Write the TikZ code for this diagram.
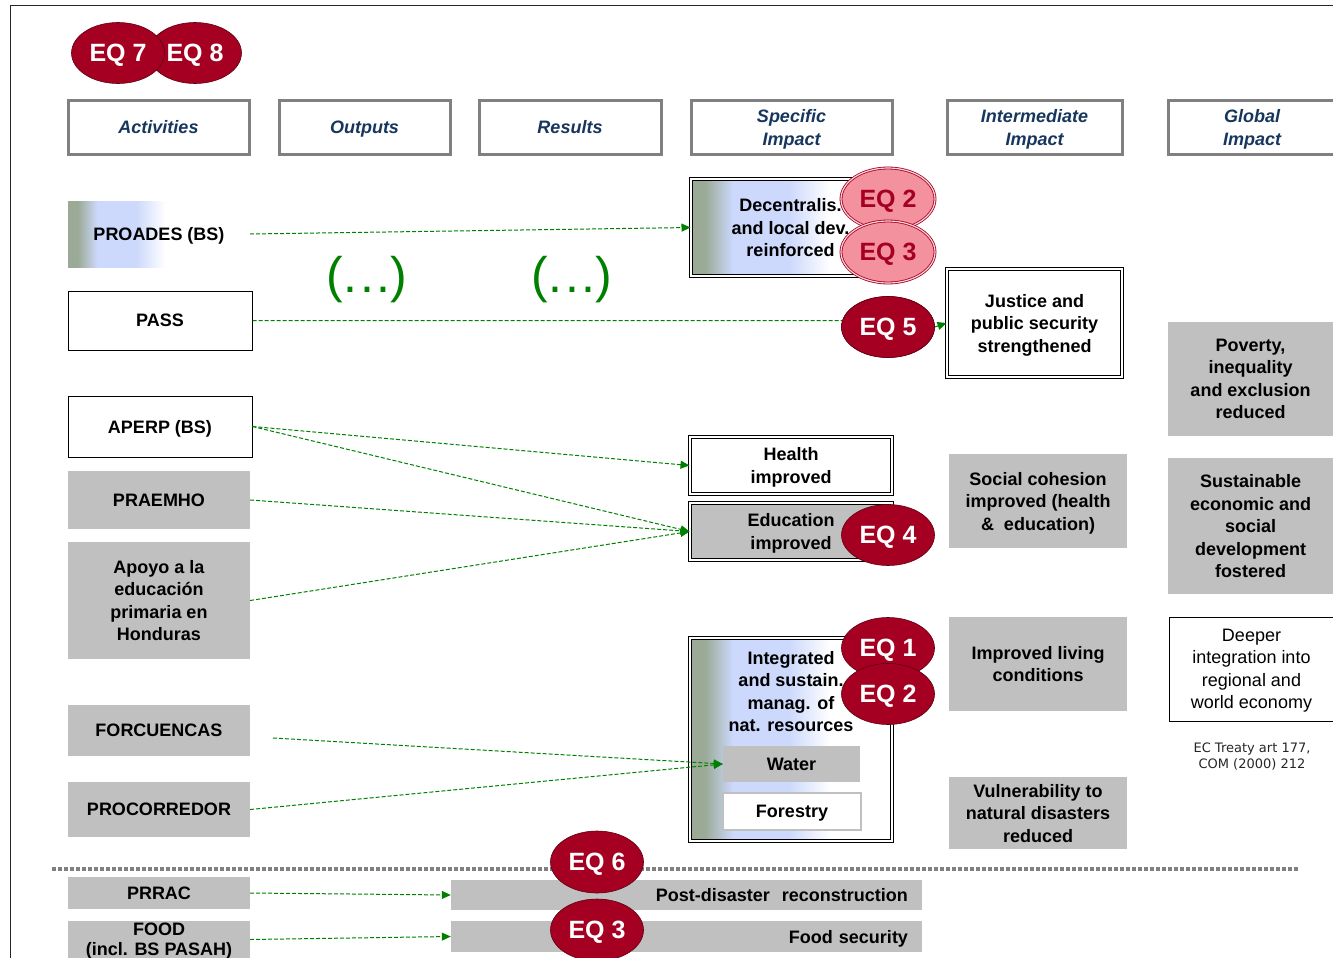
\documentclass[tikz,border=0pt]{standalone}
\usepackage{fontspec}
\setmainfont{Liberation Sans}
\newfontfamily\dejavu{DejaVu Sans}
\usetikzlibrary{shapes.geometric,arrows.meta}
\definecolor{eqred}{HTML}{A50021}
\definecolor{eqdark}{HTML}{5C0012}
\definecolor{eqpink}{HTML}{F4919F}
\definecolor{boxgray}{HTML}{C0C0C0}
\definecolor{hdrgray}{HTML}{808080}
\definecolor{hdrblue}{HTML}{17365D}
\definecolor{flowgreen}{HTML}{008000}
\definecolor{gg}{HTML}{9BAA96}
\definecolor{lb}{HTML}{CCD8FC}
\pgfdeclarehorizontalshading{fadeshade}{100bp}{color(0bp)=(gg); color(30bp)=(gg); color(40bp)=(lb); color(60bp)=(lb); color(75bp)=(white); color(100bp)=(white)}
\begin{document}
\begin{tikzpicture}[x=1pt,y=-1pt,
  lbl/.style={font=\fontsize{18}{22.5}\selectfont\bfseries, align=center, inner sep=0pt, text depth=-3pt},
  graybox/.style={lbl, fill=boxgray, draw=none},
  whitebox/.style={lbl, fill=white, draw=black, line width=1pt},
  dblbox/.style={lbl, draw=black, double=white, double distance=2pt, line width=1pt},
  hdr/.style={font=\fontsize{18}{23}\selectfont\bfseries\itshape, text=hdrblue, draw=hdrgray, line width=3pt, fill=white, align=center, inner sep=0pt, minimum height=54, text depth=-3pt},
  eq/.style={ellipse, fill=eqred, draw=eqdark, line width=0.6pt, text=white, font=\fontsize{25}{25}\selectfont\bfseries, minimum width=93, minimum height=61, inner sep=0pt, text depth=-3pt},
  eqp/.style={eq, fill=eqpink, text=eqred, draw=eqred, double=eqpink!40!white, double distance=1.2pt, line width=0.8pt, minimum width=94, minimum height=62},
  flow/.style={draw=flowgreen, dash pattern=on 4pt off 2pt, line width=1pt, -{Triangle[length=9pt,width=8pt,fill=flowgreen]}},
  flowplain/.style={draw=flowgreen, dash pattern=on 4pt off 2pt, line width=1pt},
  dots/.style={font=\fontsize{50}{50}\selectfont, text=flowgreen, inner sep=0pt}
]
\useasboundingbox (0,0) rectangle (1333,958);
% frame
\draw[line width=1pt, black!85] (10,958) -- (10,6) -- (1333,6);

% headers
\node[hdr, minimum width=181] (hact) at (158.5,127) {Activities};
\node[hdr, minimum width=171] (hout) at (364.5,127) {Outputs};
\node[hdr, minimum width=182] (hres) at (570,127) {Results};
\node[hdr, minimum width=201] (hspec) at (791.5,127) {Specific\\Impact};
\node[hdr, minimum width=175] (hint) at (1034.5,127) {Intermediate\\Impact};
\node[hdr, minimum width=168] (hglob) at (1252,127) {Global\\Impact};

% activities
\shade[shading=fadeshade] (68,201) rectangle (165,267);
\node[lbl, minimum width=182, minimum height=66] (proades) at (159,234) {PROADES (BS)};
\node[whitebox, minimum width=184, minimum height=59] (pass) at (160,320.5) {PASS};
\node[whitebox, minimum width=184, minimum height=61] (aperp) at (160,426.5) {APERP (BS)};
\node[graybox, minimum width=182, minimum height=58] (praemho) at (159,500) {PRAEMHO};
\node[graybox, minimum width=182, minimum height=117] (apoyo) at (159,600.5) {Apoyo a la\\educación\\primaria en\\Honduras};
\node[graybox, minimum width=182, minimum height=51] (forc) at (159,730.5) {FORCUENCAS};
\node[graybox, minimum width=182, minimum height=55] (procor) at (159,809.5) {PROCORREDOR};
\node[graybox, minimum width=182, minimum height=32] (prrac) at (159,893) {PRRAC};
\node[graybox, minimum width=182, minimum height=37, font=\fontsize{18}{20}\selectfont\bfseries] (food) at (159,939.5) {FOOD\\(incl. BS PASAH)};

% (...)
\node[dots] (dots1) at (367,280) {(.\kern3pt.\kern3pt.)};
\node[dots] (dots2) at (572,280) {(.\kern3pt.\kern3pt.)};

% separator
\draw[hdrgray, line width=3.5pt, dash pattern=on 4pt off 2pt] (52,869) -- (1298,869);

% bottom bars
\node[graybox, minimum width=471, minimum height=30, text width=443, align=right] (post) at (686.5,895) {Post-disaster\ \ reconstruction};
\node[graybox, minimum width=471, minimum height=31, text width=443, align=right] (foodsec) at (686.5,936.5) {Food security};

% specific impact
\shade[shading=fadeshade] (691,179) rectangle (830,276);
\node[dblbox, minimum width=199, minimum height=97] (decent) at (790.5,227.5) {Decentralis.\\and local dev.\\reinforced};
\node[dblbox, fill=white, minimum width=175, minimum height=108] (justice) at (1034.5,323) {Justice and\\public security\\strengthened};
\node[dblbox, fill=white, minimum width=202, minimum height=57] (health) at (791,465.5) {Health\\improved};
\node[dblbox, fill=boxgray, minimum width=202, minimum height=57] (educ) at (791,531.5) {Education\\improved};
\shade[shading=fadeshade] (691,639) rectangle (830,840);
\node[dblbox, minimum width=202, minimum height=203] (integ) at (791,739.5) {};
\node[lbl] (integtxt) at (791,691.5) {Integrated\\and sustain.\\manag. of\\nat. resources};
\node[graybox, minimum width=137, minimum height=36] (water) at (791.5,764) {Water};
\node[lbl, fill=white, draw=boxgray, line width=1.5pt, minimum width=138, minimum height=37] (forestry) at (792,811.5) {Forestry};

% intermediate
\node[graybox, minimum width=178, minimum height=94] (social) at (1038,501) {Social cohesion\\improved (health\\\&\ \ education)};
\node[graybox, minimum width=178, minimum height=94] (living) at (1038,664) {Improved living\\conditions};
\node[graybox, minimum width=178, minimum height=72] (vuln) at (1038,813) {Vulnerability to\\natural disasters\\reduced};

% global
\node[graybox, minimum width=165, minimum height=114] (poverty) at (1250.5,379) {Poverty,\\inequality\\and exclusion\\reduced};
\node[graybox, minimum width=165, minimum height=136] (sustain) at (1250.5,526) {Sustainable\\economic and\\social\\development\\fostered};
\node[draw=black, line width=1pt, fill=white, align=center, inner sep=0pt, font=\fontsize{18}{22.5}\selectfont, text depth=-3pt, minimum width=165, minimum height=104] (deeper) at (1251.5,669) {Deeper\\integration into\\regional and\\world economy};
\node[align=center, inner sep=0pt, font=\dejavu\fontsize{13}{16}\selectfont, text=black!85] (ec) at (1252,757) {EC Treaty art 177,\\COM (2000) 212};

% ellipse used as connector target
\node[eq] (eq5) at (888,327) {EQ 5};

% connectors
\coordinate (forcS) at (273,738);
\draw[flow] (proades.east) -- (decent.west);
\draw[flowplain] (pass.east) -- (eq5.172);
\draw[flow] (eq5.east) -- (justice.west);
\draw[flow] (aperp.east) -- (health.west);
\draw[flow] (aperp.east) -- (educ.west);
\draw[flow] (praemho.east) -- (educ.west);
\draw[flow] (apoyo.east) -- (educ.west);
\draw[flow] (forcS) -- (water.west);
\draw[flow] (procor.east) -- (water.west);
\draw[flow] (prrac.east) -- (post.west);
\draw[flow] (food.east) -- (foodsec.west);

% redraw EQ5 on top of line end
\node[eq] (eq5top) at (888,327) {EQ 5};

% other ellipses
\node[eq] (eq8) at (195,53) {EQ 8};
\node[eq] (eq7) at (118,53) {EQ 7};
\node[eqp] (eq2a) at (888,199) {EQ 2};
\node[eqp] (eq3a) at (888,252) {EQ 3};
\node[eq] (eq4) at (888,535) {EQ 4};
\node[eq] (eq1) at (888,648) {EQ 1};
\node[eq] (eq2b) at (888,694) {EQ 2};
\node[eq, minimum height=62] (eq6) at (597,862) {EQ 6};
\node[eq, minimum height=62] (eq3b) at (597,930) {EQ 3};
\end{tikzpicture}
\end{document}
